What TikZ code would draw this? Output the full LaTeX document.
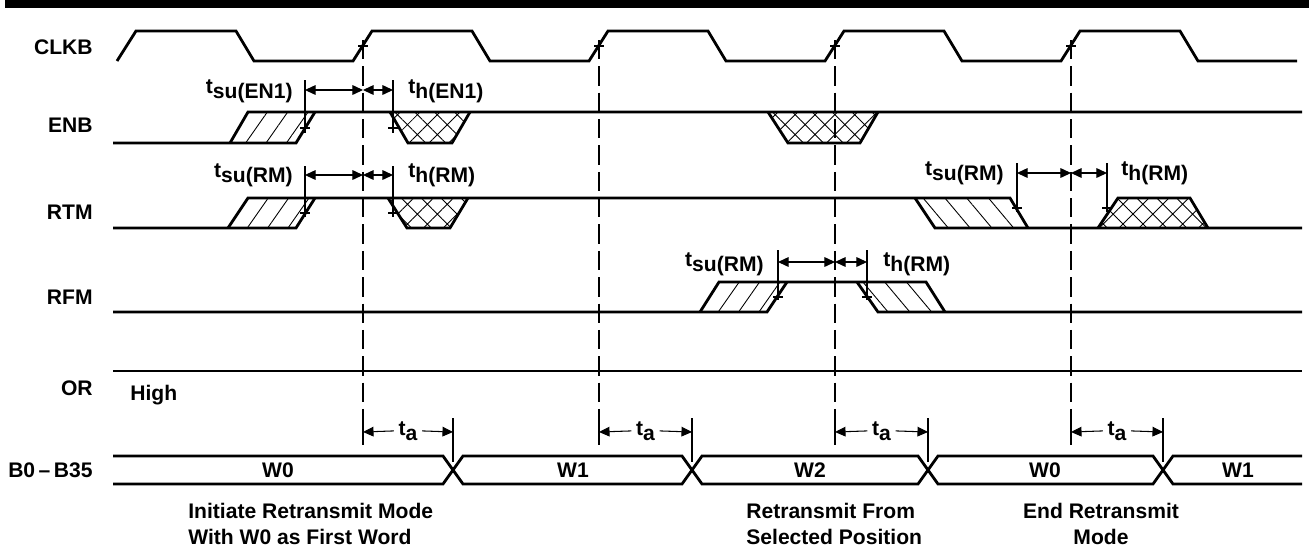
\documentclass[tikz,border=0pt]{standalone}
\usepackage{fontspec}
\setmainfont{Liberation Sans}
\usetikzlibrary{arrows.meta, patterns.meta}

\newcommand{\tsig}[1]{\raisebox{.22em}{t}#1}

\begin{document}
\begin{tikzpicture}[
    x=0.02cm, y=-0.02cm,
    font=\fontsize{12}{14.74}\selectfont\bfseries,
    >={Triangle[length=6pt,width=5.5pt]},
    sig/.style={line width=1.6pt},
    fine/.style={line width=0.6pt},
    guide/.style={line width=0.6pt, dash pattern=on 11pt off 4pt},
    dim/.style={<->, line width=0.6pt},
    rise/.style={pattern={Lines[angle=55,distance=9.5pt,line width=0.5pt]}},
    fall/.style={pattern={Lines[angle=-50,distance=9.5pt,line width=0.5pt]}},
    hold/.style={pattern={Hatch[angle=45,distance=8pt,line width=0.5pt]}},
    signame/.style={anchor=base east, inner sep=0pt},
    tlabel/.style={inner sep=0pt}
]

\useasboundingbox (0,0) rectangle (1309,552);
\fill (5,0) rectangle (1309,8);

% Signal names
\node (clkb) [signame] at (93,54) {CLKB};
\node (enb) [signame] at (93,132) {ENB};
\node (rtm) [signame] at (93,219) {RTM};
\node (rfm) [signame] at (93,304) {RFM};
\node (or) [signame] at (93,395) {OR};
\node (bus) [signame] at (93,477) {B0\,--\,B35};

% Clock
\draw[sig] (117,61) foreach \k in {0,...,4} { -- ++(19,-30) -- ++(100,0) -- ++(18,30) -- ++(99,0) };

% Clock edges used as reference
\foreach \gx in {363,599,835,1071}
    \draw[guide] (\gx,40) -- (\gx,418);
\foreach \gx in {363,599,835,1071}
    \draw[fine] (\gx,418) -- (\gx,445);

% ENB
\path[rise] (230,143) -- (248,112) -- (315,112) -- (296,143) -- cycle;
\draw[sig] (113,143) -- (296,143) -- (315,112);
\draw[sig] (230,143) -- (248,112) -- (1302,112);
\path[hold] (390,112) -- (408,143) -- (452,143) -- (470,112) -- cycle;
\draw[sig] (390,112) -- (408,143) -- (452,143) -- (470,112);
\path[hold] (768,112) -- (788,143) -- (860,143) -- (878,112) -- cycle;
\draw[sig] (768,112) -- (788,143) -- (860,143) -- (878,112);

% RTM
\path[rise] (228,228) -- (248,198) -- (315,198) -- (296,228) -- cycle;
\draw[sig] (113,228) -- (296,228) -- (315,198);
\draw[sig] (228,228) -- (248,198) -- (1010,198) -- (1028,228);
\path[hold] (388,198) -- (407,228) -- (450,228) -- (468,198) -- cycle;
\draw[sig] (388,198) -- (407,228) -- (450,228) -- (468,198);
\path[fall] (915,198) -- (935,228) -- (1028,228) -- (1010,198) -- cycle;
\draw[sig] (915,198) -- (935,228) -- (1302,228);
\path[hold] (1098,228) -- (1118,198) -- (1190,198) -- (1208,228) -- cycle;
\draw[sig] (1098,228) -- (1118,198) -- (1190,198) -- (1208,228);

% RFM
\path[rise] (700,312) -- (719,282) -- (787,282) -- (767,312) -- cycle;
\draw[sig] (113,312) -- (767,312) -- (787,282);
\draw[sig] (700,312) -- (719,282) -- (926,282) -- (945,312);
\path[fall] (857,282) -- (878,312) -- (945,312) -- (926,282) -- cycle;
\draw[sig] (857,282) -- (878,312) -- (1302,312);

% OR
\draw[sig] (113,371) -- (1302,371);
\node (high) [tlabel, anchor=base west] at (130,400) {High};

% B0-B35
\draw[sig] (113,456) -- (443,456) -- (463,484) -- (682,484) -- (702,456) -- (918,456)
    -- (938,484) -- (1153,484) -- (1173,456) -- (1302,456);
\draw[sig] (113,484) -- (443,484) -- (463,456) -- (682,456) -- (702,484) -- (918,484)
    -- (938,456) -- (1153,456) -- (1173,484) -- (1302,484);
\node (w0a) at (278,470) {W0};
\node (w1a) at (573,470) {W1};
\node (w2) at (810,470) {W2};
\node (w0b) at (1045,470) {W0};
\node (w1b) at (1238,470) {W1};

% setup / hold ticks
\foreach \tx/\ta/\tb in {305/80/133, 393/80/133, 305/166/217, 393/166/217,
    1017/163/212, 1107/163/212, 778/250/300, 867/250/300}
    \draw[fine] (\tx,\ta) -- (\tx,\tb);
\foreach \px/\py in {363/46, 599/46, 835/46, 1071/46, 305/128, 393/128, 305/213,
    393/213, 1017/208, 1107/208, 778/297, 867/297}
    \draw[fine] (\px-5,\py) -- (\px+5,\py);

% setup / hold times
\draw[dim] (305,90) -- (363,90);
\draw[dim] (363,90) -- (393,90);
\node (suen) [tlabel, anchor=base east] at (293,98) {\tsig{su(EN1)}};
\node (hen) [tlabel, anchor=base west] at (408,98) {\tsig{h(EN1)}};

\draw[dim] (305,175) -- (363,175);
\draw[dim] (363,175) -- (393,175);
\node (surm1) [tlabel, anchor=base east] at (293,182) {\tsig{su(RM)}};
\node (hrm1) [tlabel, anchor=base west] at (408,182) {\tsig{h(RM)}};

\draw[dim] (1017,173) -- (1071,173);
\draw[dim] (1071,173) -- (1107,173);
\node (surm2) [tlabel, anchor=base east] at (1004,180) {\tsig{su(RM)}};
\node (hrm2) [tlabel, anchor=base west] at (1121,180) {\tsig{h(RM)}};

\draw[dim] (778,262) -- (835,262);
\draw[dim] (835,262) -- (867,262);
\node (surm3) [tlabel, anchor=base east] at (764,271) {\tsig{su(RM)}};
\node (hrm3) [tlabel, anchor=base west] at (883,271) {\tsig{h(RM)}};

% access times
\foreach \ax/\bx [count=\i] in {363/453, 599/692, 835/928, 1071/1163} {
    \draw[fine] (\bx,418) -- (\bx,462);
    \node (ta\i) [inner sep=2.5pt, anchor=base] at ({(\ax+\bx)/2},440) {\tsig{a}};
    \draw[fine, ->] (ta\i.west) -- (\ax,432);
    \draw[fine, ->] (ta\i.east) -- (\bx,432);
}

% Notes
\node (note1) [tlabel, align=left, anchor=north west] at (188,503) {Initiate Retransmit Mode\\With W0 as First Word};
\node (note2) [tlabel, align=left, anchor=north west] at (746,503) {Retransmit From\\Selected Position};
\node (note3) [tlabel, align=center, anchor=north] at (1101,503) {End Retransmit\\Mode};

\end{tikzpicture}
\end{document}
